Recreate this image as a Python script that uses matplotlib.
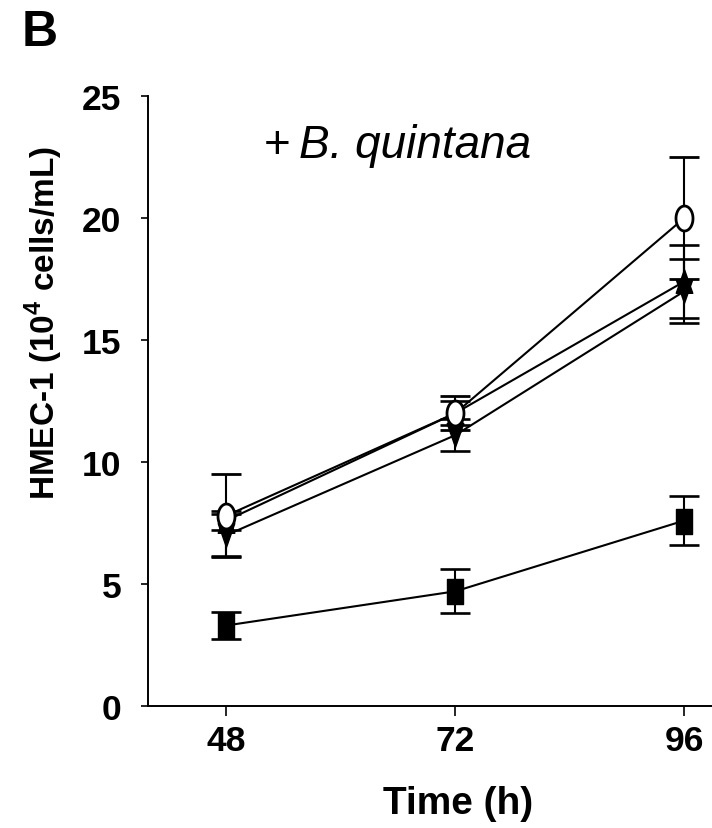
import numpy as np
import matplotlib.pyplot as plt
from matplotlib.path import Path

plt.rcParams['font.family'] = ['Liberation Sans', 'DejaVu Sans']
plt.rcParams['mathtext.fontset'] = 'custom'
plt.rcParams['mathtext.rm'] = 'Liberation Sans:bold'
plt.rcParams['mathtext.bf'] = 'Liberation Sans:bold'

# data
time_h = [48, 72, 96]
open_circle = [7.8, 12.0, 20.0]
open_circle_err = [1.7, 0.7, 2.5]
tri_up = [7.6, 12.0, 17.4]
tri_up_err = [0.4, 0.5, 1.5]
tri_down = [7.0, 11.1, 17.0]
tri_down_err = [0.85, 0.65, 1.3]
square = [3.3, 4.7, 7.6]
square_err = [0.55, 0.9, 1.0]

# the markers in the source look stretched vertically
t = np.linspace(0, 2 * np.pi, 60)
ellipse = Path(np.column_stack([0.68 * np.cos(t), np.sin(t)]), closed=True)
rect = Path([(-0.62, -1), (0.62, -1), (0.62, 1), (-0.62, 1), (-0.62, -1)], closed=True)
up = Path([(0, 1), (0.7, -1), (-0.7, -1), (0, 1)], closed=True)
down = Path([(0, -1), (0.7, 1), (-0.7, 1), (0, -1)], closed=True)

fig = plt.figure(figsize=(7.12, 8.29), dpi=100)
ax = fig.add_axes([148 / 712, 122 / 829, 564 / 712, 610 / 829])

style = dict(color='black', lw=1.5, elinewidth=1.5, capsize=11, capthick=1.9)
ax.errorbar(time_h, square, yerr=square_err, marker=rect, ms=18,
            mfc='black', mec='black', zorder=3, **style)
ax.errorbar(time_h, tri_down, yerr=tri_down_err, marker=down, ms=17,
            mfc='black', mec='black', zorder=4, **style)
ax.errorbar(time_h, tri_up, yerr=tri_up_err, marker=up, ms=17,
            mfc='black', mec='black', zorder=5, **style)
ax.errorbar(time_h, open_circle, yerr=open_circle_err, marker=ellipse, ms=18,
            mfc='white', mec='black', mew=2.0, zorder=6, **style)

ax.set_xlim(39.8, 98.9)
ax.set_ylim(0, 25)
ax.set_xticks(time_h)
ax.set_yticks([0, 5, 10, 15, 20, 25])
for s in ['top', 'right']:
    ax.spines[s].set_visible(False)
ax.spines['left'].set_linewidth(1.4)
ax.spines['bottom'].set_linewidth(1.4)
ax.tick_params(axis='y', length=5, width=1.2, pad=14, labelsize=25.5)
ax.tick_params(axis='x', length=7, width=1.2, pad=6, labelsize=25.5)
for lab in ax.get_xticklabels() + ax.get_yticklabels():
    lab.set_fontweight('bold')

ax.set_xlabel('Time (h)', fontsize=28, fontweight='bold', labelpad=20, x=0.55)
ax.set_ylabel('HMEC-1 (10$^4$ cells/mL)', fontsize=24, fontweight='bold',
              labelpad=12, y=0.63)

ax.text(51.9, 22.5, '+', fontsize=33, va='baseline')
ax.text(55.6, 22.5, 'B. quintana', fontsize=33, style='italic', va='baseline')

fig.text(0.03, 0.988, 'B', fontsize=36, fontweight='bold', va='top')

fig.savefig('out.png', dpi=100, facecolor='white')
